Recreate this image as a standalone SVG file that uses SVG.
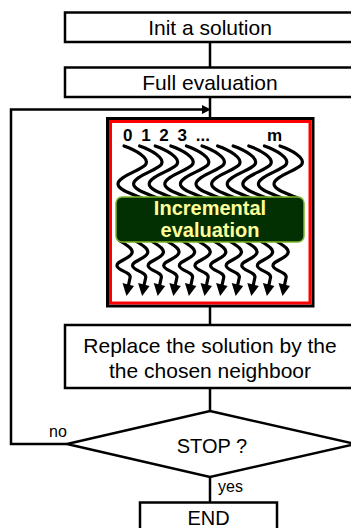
<svg xmlns="http://www.w3.org/2000/svg" xmlns:xlink="http://www.w3.org/1999/xlink" width="351" height="528" viewBox="0 0 351 528">
<style>
.box{fill:#fff;stroke:#000;stroke-width:2.5}
.lbl{font-family:"Liberation Sans",Arial,sans-serif;font-size:21px;fill:#000;text-anchor:middle}
.lbl2{font-family:"Liberation Sans",Arial,sans-serif;font-size:20px;fill:#000;text-anchor:middle}
.sm{font-family:"Liberation Sans",Arial,sans-serif;font-size:16px;fill:#000}
.conn{fill:none;stroke:#000;stroke-width:2.5}
.wave{fill:none;stroke:#000;stroke-width:3.2;stroke-linecap:round;stroke-linejoin:round}
.dig{font-family:"Liberation Sans",Arial,sans-serif;font-size:17px;font-weight:bold;fill:#000}
.inc{font-family:"Liberation Sans",Arial,sans-serif;font-size:20px;font-weight:bold;fill:#FFFF99;text-anchor:middle}
</style>
<defs>
<g id="wv">
<path class="wave" d="M124,146 C136,150 149,158 146,164 C143,170 118,176 118,184 C118,190 132,194 142,198"/>
<path class="wave" d="M119,240 C124,244 134,248 132,253 C130,259 116,261 117,266 C118,271 132,272 130,278 L128.5,285"/>
<polygon points="122.5,283 134,286 126.5,296" fill="#000"/>
</g>
</defs>
<rect width="351" height="528" fill="#fff"/>
<g id="connectors">
<line class="conn" x1="210" y1="42" x2="210" y2="67"/>
<line class="conn" x1="210" y1="97" x2="210" y2="118"/>
<line class="conn" x1="210" y1="306" x2="210" y2="325"/>
<line class="conn" x1="210" y1="388" x2="210" y2="411"/>
<line class="conn" x1="210" y1="477" x2="210" y2="503"/>
<polyline class="conn" points="67,444 11,444 11,109.5 203,109.5"/>
<polygon points="202,105 211,109.5 202,114" fill="#000"/>
</g>
<g id="init">
<rect class="box" x="65" y="12.5" width="292" height="29.5"/>
<text class="lbl" x="210" y="35">Init a solution</text>
</g>
<g id="full">
<rect class="box" x="65" y="67.5" width="292" height="29.5"/>
<text class="lbl" x="210" y="89.5">Full evaluation</text>
</g>
<g id="neighborhood">
<rect x="107.5" y="118.5" width="205.5" height="187.5" fill="#fff" stroke="#000" stroke-width="3"/>
<rect x="110.5" y="121.5" width="199.5" height="181.5" fill="none" stroke="#f00" stroke-width="3"/>
<text class="dig" x="123" y="141" word-spacing="4">0 1 2 3 ...</text>
<text class="dig" x="267" y="141">m</text>
<use xlink:href="#wv"/>
<use xlink:href="#wv" x="15.6"/>
<use xlink:href="#wv" x="31.2"/>
<use xlink:href="#wv" x="46.8"/>
<use xlink:href="#wv" x="62.4"/>
<use xlink:href="#wv" x="78"/>
<use xlink:href="#wv" x="93.6"/>
<use xlink:href="#wv" x="109.2"/>
<use xlink:href="#wv" x="124.8"/>
<use xlink:href="#wv" x="140.4"/>
<use xlink:href="#wv" x="156"/>
</g>
<g id="incremental">
<rect x="116" y="197" width="188" height="45" rx="6" fill="#033003" stroke="#7fb52a" stroke-width="1.5"/>
<text class="inc" x="210" y="215">Incremental</text>
<text class="inc" x="210" y="237">evaluation</text>
</g>
<g id="replace">
<rect class="box" x="65" y="325" width="292" height="63"/>
<text class="lbl" x="210" y="353">Replace the solution by the</text>
<text class="lbl" x="210" y="378">the chosen neighboor</text>
</g>
<g id="stop">
<polygon class="box" points="210,411 355,444 210,477 67,444"/>
<text class="lbl2" x="212" y="453">STOP ?</text>
<text class="sm" x="49" y="437">no</text>
<text class="sm" x="218" y="492">yes</text>
</g>
<g id="end">
<rect class="box" x="140" y="502.5" width="137" height="30"/>
<text class="lbl2" x="208.5" y="525">END</text>
</g>
</svg>
